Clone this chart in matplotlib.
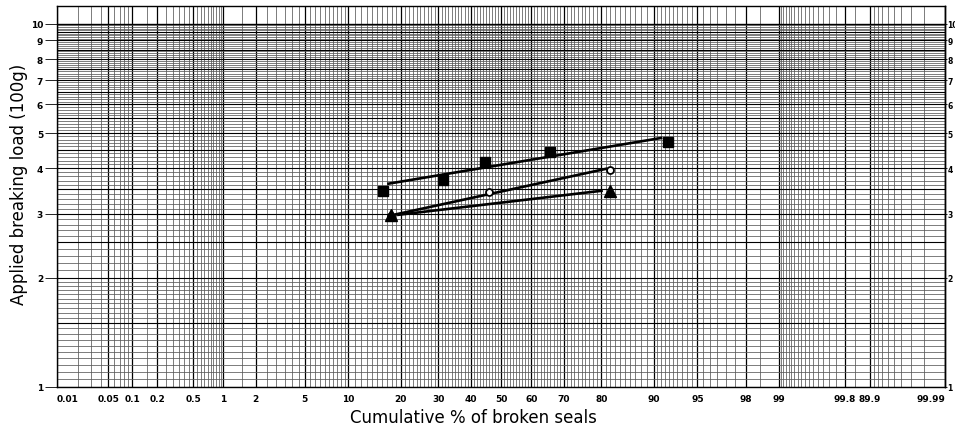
import math
import numpy as np
import matplotlib
matplotlib.use("Agg")
import matplotlib.pyplot as plt
from matplotlib.ticker import NullLocator

# cumulative % (x) and applied breaking load in 100 g (y)
sq_pct = [16.1, 31.5, 44.7, 65.8, 91.9]
sq_load = [3.47, 3.72, 4.17, 4.44, 4.73]
sq_fit_pct = [17.3, 91.0]
sq_fit_load = [3.63, 4.85]

circ_pct = [17.8, 45.9, 82.0]
circ_load = [2.96, 3.45, 3.96]
circ_fit_pct = [19.0, 81.1]
circ_fit_load = [2.99, 3.99]

tri_pct = [17.9, 81.9]
tri_load = [2.97, 3.47]
tri_fit_pct = [19.5, 80.0]
tri_fit_load = [2.98, 3.47]

x_ticks = [0.01, 0.05, 0.1, 0.2, 0.5, 1, 2, 5, 10, 20, 30, 40, 50, 60, 70, 80,
           90, 95, 98, 99, 99.8, 99.9, 99.99]
x_tick_labels = ["0.01", "0.05", "0.1", "0.2", "0.5", "1", "2", "5", "10", "20",
                 "30", "40", "50", "60", "70", "80", "90", "95", "98", "99",
                 "99.8", "89.9", "99.99"]
y_ticks = [1, 2, 3, 4, 5, 6, 7, 8, 9, 10]
y_tick_labels = ["1", "2", "3", "4", "5", "6", "7", "8", "9", "10"]

# normal probability scale (Acklam's inverse normal approximation)
A = [-3.969683028665376e+01, 2.209460984245205e+02, -2.759285104469687e+02,
     1.383577518672690e+02, -3.066479806614716e+01, 2.506628277459239e+00]
B = [-5.447609879822406e+01, 1.615858368580409e+02, -1.556989798598866e+02,
     6.680131188771972e+01, -1.328068155288572e+01]
C = [-7.784894002430293e-03, -3.223964580411365e-01, -2.400758277161838e+00,
     -2.549732539343734e+00, 4.374664141464968e+00, 2.938163982698783e+00]
D = [7.784695709041462e-03, 3.224671290700398e-01, 2.445134137142996e+00,
     3.754408661907416e+00]


def _tail(q):
    num = ((((C[0]*q + C[1])*q + C[2])*q + C[3])*q + C[4])*q + C[5]
    den = (((D[0]*q + D[1])*q + D[2])*q + D[3])*q + 1
    return num / den


def probit_pct(v):
    v = np.asarray(v, dtype=float)
    shape = v.shape
    p = np.clip(np.atleast_1d(v).ravel() / 100.0, 1e-9, 1 - 1e-9)
    out = np.empty_like(p)
    lo = p < 0.02425
    hi = p > 1 - 0.02425
    mid = ~(lo | hi)
    out[lo] = _tail(np.sqrt(-2 * np.log(p[lo])))
    out[hi] = -_tail(np.sqrt(-2 * np.log(1 - p[hi])))
    q = p[mid] - 0.5
    r = q * q
    out[mid] = (((((A[0]*r + A[1])*r + A[2])*r + A[3])*r + A[4])*r + A[5]) * q / \
               (((((B[0]*r + B[1])*r + B[2])*r + B[3])*r + B[4])*r + 1)
    return out.reshape(shape)


_erf = np.vectorize(math.erf, otypes=[float])


def cdf_pct(z):
    z = np.asarray(z, dtype=float)
    return 50.0 * (1 + _erf(z / math.sqrt(2)))


fig = plt.figure(figsize=(9.55, 4.27), dpi=100)
ax = fig.add_axes([57/955, 1 - 388/427, (945 - 57)/955, (388 - 7)/427])
ax.set_xscale("function", functions=(probit_pct, cdf_pct))
ax.set_yscale("log")
ax.set_xlim(0.01, 99.99)
ax.set_ylim(1, 11.2)

# probability-paper grid
fine_x = np.concatenate([
    np.arange(0.01, 0.1, 0.01), np.arange(0.1, 1, 0.05), np.arange(1, 10, 0.5),
    np.arange(10, 90, 1), np.arange(90, 99, 0.5), np.arange(99, 99.9, 0.05),
    np.arange(99.9, 99.99, 0.01)])
for v in fine_x:
    ax.axvline(v, color="0.35", lw=0.55, zorder=0)
for v in x_ticks:
    ax.axvline(v, color="black", lw=0.9, zorder=0)

fine_y = np.concatenate([np.arange(1, 2, 0.05), np.arange(2, 10, 0.1)])
for v in fine_y:
    ax.axhline(v, color="0.35", lw=0.55, zorder=0)
for v in np.arange(1, 10, 0.5):
    ax.axhline(v, color="black", lw=0.8, zorder=0)
ax.axhline(10, color="black", lw=1.0, zorder=0)

# fitted lines and points
lw = 1.9
ax.plot(sq_fit_pct, sq_fit_load, color="black", lw=lw, zorder=3)
ax.plot(circ_fit_pct, circ_fit_load, color="black", lw=lw, zorder=3)
ax.plot(tri_fit_pct, tri_fit_load, color="black", lw=lw, zorder=3)
ax.plot(sq_pct, sq_load, "s", color="black", ms=7.5, zorder=4)
ax.plot(circ_pct, circ_load, "o", mfc="white", mec="black", mew=1.3, ms=5,
        zorder=4)
ax.plot(tri_pct, tri_load, "^", color="black", ms=8, zorder=5)

ax.set_xticks(x_ticks, labels=x_tick_labels)
ax.set_yticks(y_ticks, labels=y_tick_labels)
ax.xaxis.set_minor_locator(NullLocator())
ax.yaxis.set_minor_locator(NullLocator())
ax.tick_params(axis="x", length=0, pad=5, labelsize=6.5)
ax.tick_params(axis="y", which="major", left=True, right=False,
               labelleft=True, labelright=False, length=9, width=0.6,
               pad=1, labelsize=6.5)
for t in ax.get_xticklabels() + ax.get_yticklabels():
    t.set_fontweight("bold")
xt = ax.get_xticklabels()
xt[0].set_ha("left")
xt[-1].set_ha("right")

# right-hand scale, same values
sec = ax.secondary_yaxis("right")
sec.set_yticks(y_ticks, labels=y_tick_labels)
sec.yaxis.set_minor_locator(NullLocator())
sec.tick_params(length=1.5, width=0.6, pad=0.3, labelsize=5.5)
for t in sec.get_yticklabels():
    t.set_fontweight("bold")
sec.spines["right"].set_linewidth(1.0)

for s in ax.spines.values():
    s.set_linewidth(1.0)
    s.set_color("black")

fig.text(473/955, 1 - 418/427, "Cumulative % of broken seals", ha="center",
         va="center", fontsize=12)
fig.text(19/955, 1 - 184/427, "Applied breaking load (100g)", ha="center",
         va="center", rotation=90, fontsize=12)

fig.savefig("out.png", dpi=100)
